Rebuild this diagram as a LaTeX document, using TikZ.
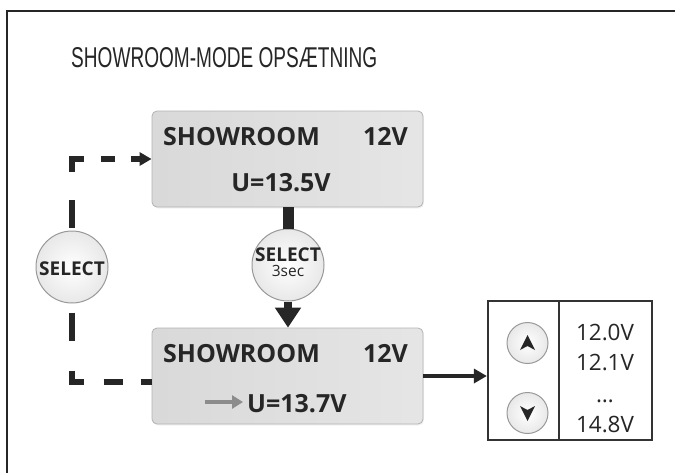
\documentclass[tikz,border=0pt]{standalone}
\usepackage{fontspec}
\setmainfont{Open Sans}
\newfontfamily\titlefont{Liberation Sans}
\usetikzlibrary{arrows.meta,calc,shadows}
\tikzset{
  lcd/.style={draw=black!30, line width=0.8pt, rounded corners=5pt,
    left color=black!15, right color=black!10,
    minimum width=271pt, minimum height=96pt, inner sep=0pt,
    drop shadow={opacity=0.10, shadow xshift=1pt, shadow yshift=-1.5pt}},
  lcdtext/.style={inner sep=0pt, text=black!85, font=\fontsize{25}{29}\selectfont\bfseries},
  btn/.style={circle, draw=black!40, line width=1pt, inner color=white, outer color=black!9,
    minimum size=72pt, inner sep=0pt},
  btnsmall/.style={btn, minimum size=41pt},
  seltext/.style={inner sep=0pt, text=black!85, font=\fontsize{19}{22}\selectfont\bfseries},
  valtext/.style={inner sep=0pt, text=black!85, font=\fontsize{22.5}{26}\selectfont},
  dashln/.style={line width=5.5pt, black!85},
  thickln/.style={black!85},
}
\begin{document}
\begin{tikzpicture}[x=1pt,y=-1pt]
\useasboundingbox (0,0) rectangle (675,472);
% outer frame
\draw[line width=2.5pt, black!85] (7,480) -- (7,11) -- (680,11);
% title
\node[anchor=base west, inner sep=0pt, text=black!85] (title) at (71,67)
  {\resizebox{306pt}{20pt}{\titlefont SHOWROOM-MODE OPSÆTNING}};
% lcd boxes
\node[lcd] (box1) at (287.5,159) {};
\node[lcd] (box2) at (287.5,376) {};
\node[lcdtext, anchor=base west] (b1a) at (163,145) {SHOWROOM};
\node[lcdtext, anchor=base east] (b1b) at (408,145) {12V};
\node[lcdtext, anchor=base] (b1c) at (281,191) {U=13.5V};
\node[lcdtext, anchor=base west] (b2a) at (163,362) {SHOWROOM};
\node[lcdtext, anchor=base east] (b2b) at (408,362) {12V};
\node[lcdtext, anchor=base west] (b2c) at (247,412) {U=13.7V};
\coordinate (ga1) at (205,402);
\coordinate (ga2) at (243,402);
\draw[line width=4pt, black!45, -{Triangle[width=13pt,length=11pt]}] (ga1) -- (ga2);
% select buttons
\node[btn] (selL) at (72,267) {};
\node[seltext, anchor=base] (selLt) at (72,275) {SELECT};
\node[btn] (selM) at (288,265) {};
\node[seltext, anchor=base] (selMt) at (288,261) {SELECT};
\node[inner sep=0pt, text=black!85, font=\fontsize{15.5}{18}\selectfont, anchor=base] (selMs) at (288,276) {3sec};
% vertical connectors
\draw[thickln, line width=11pt] (box1.south -| selM) -- (selM.north);
\draw[thickln, line width=8pt, -{Triangle[width=25pt,length=20pt]}] (selM.south) -- (box2.north -| selM);
% dashed loop
\draw[dashln, shorten <=3pt, dash pattern=on 28pt off 28pt on 24pt off 17pt on 14pt off 16pt on 60pt,
  -{Triangle[width=13pt,length=12pt]}] (selL.north) |- (box1.west);
\draw[dashln, shorten <=9pt, dash pattern=on 28pt off 30pt on 23pt off 20pt on 19pt off 18pt on 40pt]
  (selL.south) |- ($(box2.west)+(0,6)$);
% value box
\node[draw=black!80, line width=2.2pt, minimum width=164pt, minimum height=139pt, inner sep=0pt] (vbox) at (570,370.5) {};
\coordinate (dv) at (559,0);
\draw[black!80, line width=1.6pt] (vbox.north -| dv) -- (vbox.south -| dv);
\draw[thickln, line width=4pt, -{Triangle[width=14pt,length=13pt]}] (box2.east) -- (box2.east -| vbox.west);
\node[btnsmall] (up) at (527.5,343) {};
\node[btnsmall] (down) at (527.5,413) {};
\fill[black!85] ($(up)+(0,-8)$) -- ($(up)+(-7.5,7)$) -- ($(up)+(0,3)$) -- ($(up)+(7.5,7)$) -- cycle;
\fill[black!85] ($(down)+(0,8)$) -- ($(down)+(-7.5,-7)$) -- ($(down)+(0,-3)$) -- ($(down)+(7.5,-7)$) -- cycle;
\node[valtext, anchor=base] (v1) at (605,340) {12.0V};
\node[valtext, anchor=base] (v2) at (605,370) {12.1V};
\node[valtext, anchor=base] (v3) at (605,402) {…};
\node[valtext, anchor=base] (v4) at (605,432) {14.8V};
\end{tikzpicture}
\end{document}
